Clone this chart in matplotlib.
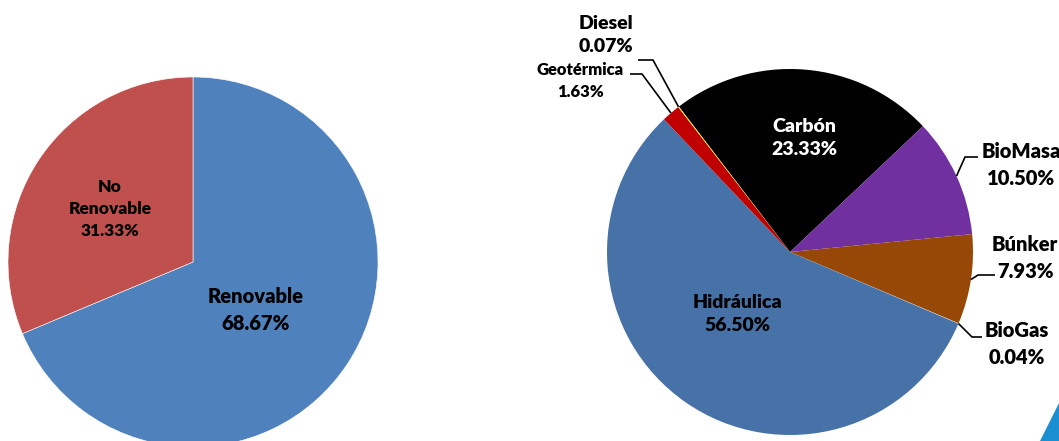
import matplotlib.pyplot as plt
import numpy as np
from matplotlib.patches import Polygon

# left pie
left_labels = ['Renovable', 'No\nRenovable']
left_values = [68.67, 31.33]
left_colors = ['#4F81BD', '#C0504D']

# right pie (clockwise from Carbón)
right_labels = ['Carbón', 'BioMasa', 'Búnker', 'BioGas', 'Hidráulica', 'Geotérmica', 'Diesel']
right_values = [23.33, 10.50, 7.93, 0.04, 56.50, 1.63, 0.07]
right_colors = ['#000000', '#7030A0', '#974706', '#D9D9D9', '#4672A8', '#C00000', '#FFFF00']

W, H = 1059, 441
fig = plt.figure(figsize=(W / 100, H / 100), dpi=100)
ax = fig.add_axes([0, 0, 1, 1])
font = ['Lato', 'DejaVu Sans']

lc = (193, H - 262)
lr = 185
lw, _ = ax.pie(left_values, colors=left_colors, startangle=90, counterclock=False,
               center=lc, radius=lr, wedgeprops=dict(edgecolor='white', linewidth=0.4))

rc = (790, H - 252)
rr = 183
rw, _ = ax.pie(right_values, colors=right_colors, startangle=127.4, counterclock=False,
               center=rc, radius=rr, wedgeprops=dict(edgecolor='none'))

ax.set_xlim(0, W)
ax.set_ylim(0, H)
ax.set_aspect('equal')
ax.axis('off')

def lab(x, y, s, size=14, color='black'):
    ax.text(x, H - y, s, ha='center', va='center', fontsize=size, fontweight='heavy',
            color=color, family=font, linespacing=1.45)

# inside labels
lab(256, 310, f'{left_labels[0]}\n{left_values[0]:.2f}%', 14.5)
lab(110, 209, f'{left_labels[1]}\n{left_values[1]:.2f}%', 12.5)
lab(804, 138, f'{right_labels[0]}\n{right_values[0]:.2f}%', 14, 'white')
lab(737, 314, f'{right_labels[4]}\n{right_values[4]:.2f}%', 14)

# outside labels with leader lines: (index, text pos, elbow, line end, size)
outside = [
    (1, (1021, 165), (965, 157), (978, 157), 14.5),
    (2, (1025, 258), (978, 275), (995, 275), 14.5),
    (3, (1017, 344), (972, 337), (982, 337), 14.5),
    (6, (606, 35), (653, 60), (638, 60), 14),
    (5, (580, 81), (642, 74), (630, 74), 12),
]
for i, tpos, elbow, lend, size in outside:
    w = rw[i]
    ang = np.deg2rad((w.theta1 + w.theta2) / 2)
    ex = rc[0] + rr * np.cos(ang)
    ey = rc[1] + rr * np.sin(ang)
    ax.plot([ex, elbow[0], lend[0]], [ey, H - elbow[1], H - lend[1]], color='black', lw=1.2,
            solid_capstyle='butt')
    lab(tpos[0], tpos[1], f'{right_labels[i]}\n{right_values[i]:.2f}%', size)

# corner decoration
fig.patches.append(Polygon([(1040 / W, 0), (1, 0), (1, 38 / H)], closed=True,
                           transform=fig.transFigure, facecolor='#1B8FD2', edgecolor='none'))

fig.savefig('out.png', dpi=100)
